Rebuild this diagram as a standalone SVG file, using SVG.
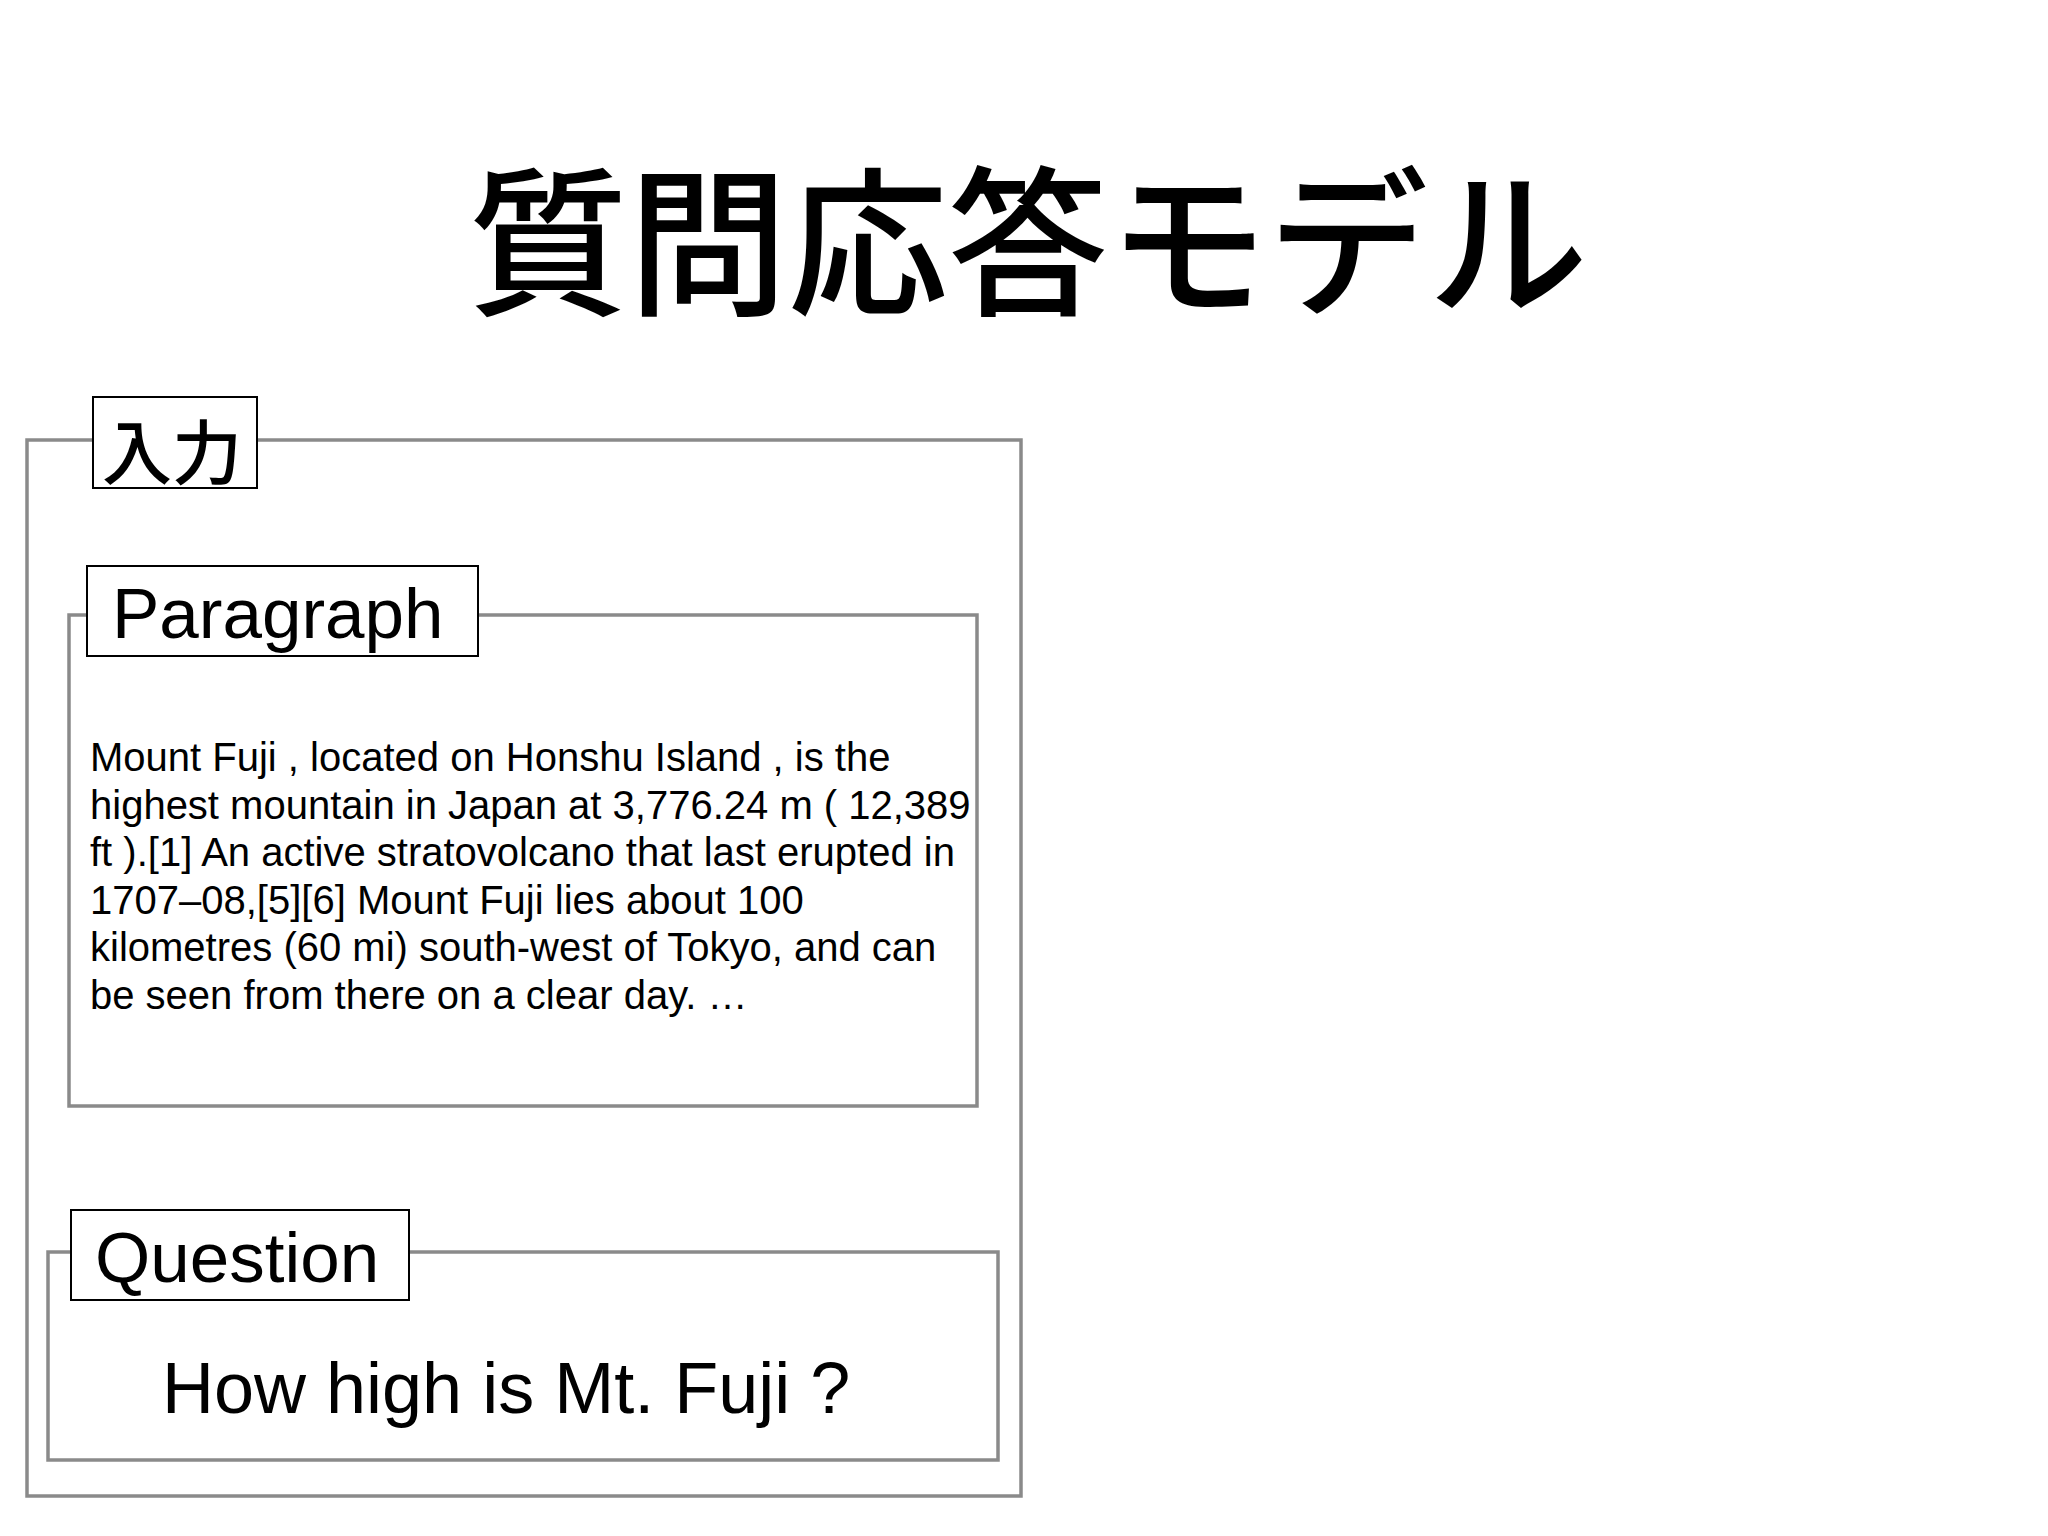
<svg xmlns="http://www.w3.org/2000/svg" width="2048" height="1536" viewBox="0 0 2048 1536">
<style>
.frame{fill:none;stroke:#8a8a8a;stroke-width:3.5}
.label{fill:#ffffff;stroke:#000000;stroke-width:2}
.t{font-family:"Liberation Sans",Arial,sans-serif;fill:#000000}
.jp{font-family:"Noto Sans CJK JP","Noto Sans CJK SC",sans-serif;fill:#000000;font-weight:500}
</style>
<rect x="0" y="0" width="2048" height="1536" fill="#ffffff"/>
<g id="title">
<text class="jp" x="1028" y="303" font-size="160" text-anchor="middle">質問応答モデル</text>
</g>
<g id="input">
<rect class="frame" x="27" y="440" width="994" height="1056"/>
<rect class="label" x="93" y="397" width="164" height="91"/>
<text class="jp" x="102" y="479" font-size="70">入力</text>
</g>
<g id="paragraph">
<rect class="frame" x="69" y="615" width="908" height="491"/>
<rect class="label" x="87" y="566" width="391" height="90"/>
<text class="t" x="112" y="638" font-size="71">Paragraph</text>
<text class="t" font-size="40">
<tspan x="90" y="771">Mount Fuji , located on Honshu Island , is the</tspan>
<tspan x="90" y="818.6">highest mountain in Japan at 3,776.24 m ( 12,389</tspan>
<tspan x="90" y="866.2">ft ).[1] An active stratovolcano that last erupted in</tspan>
<tspan x="90" y="913.8">1707–08,[5][6] Mount Fuji lies about 100</tspan>
<tspan x="90" y="961.4">kilometres (60 mi) south-west of Tokyo, and can</tspan>
<tspan x="90" y="1009">be seen from there on a clear day. …</tspan>
</text>
</g>
<g id="question">
<rect class="frame" x="48" y="1252" width="950" height="208"/>
<rect class="label" x="71" y="1210" width="338" height="90"/>
<text class="t" x="95" y="1282" font-size="71">Question</text>
<text class="t" x="162" y="1413" font-size="72">How high is Mt. Fuji ?</text>
</g>
</svg>
